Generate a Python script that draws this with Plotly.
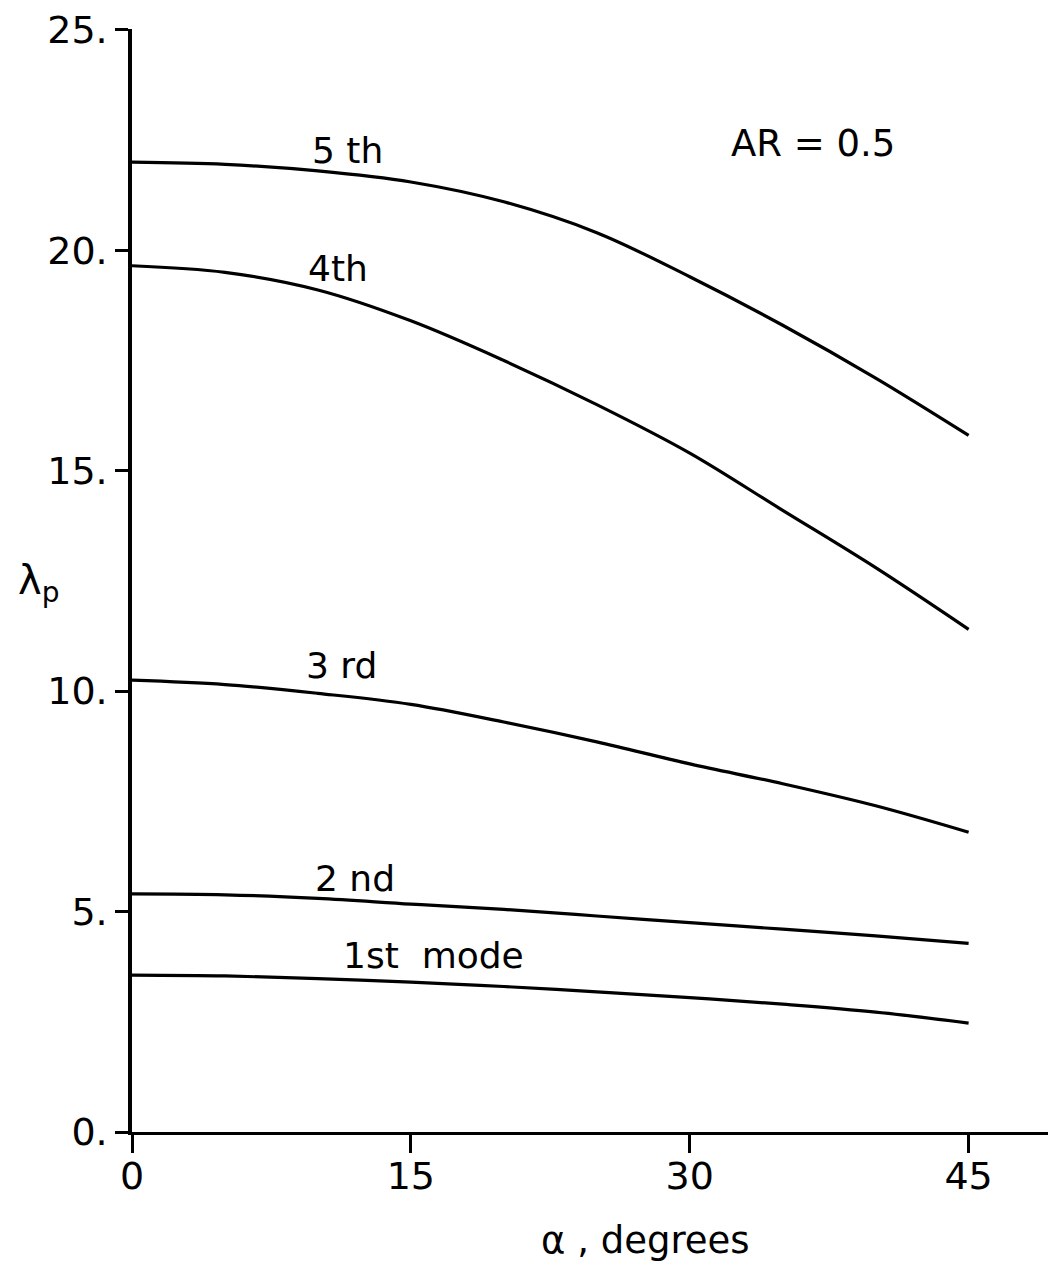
import plotly.graph_objects as go

alpha = [0, 5, 10, 15, 20, 25, 30, 35, 40, 45]
mode1 = [3.56, 3.54, 3.48, 3.40, 3.30, 3.18, 3.05, 2.90, 2.72, 2.47]
mode2 = [5.40, 5.38, 5.30, 5.17, 5.05, 4.90, 4.75, 4.60, 4.45, 4.28]
mode3 = [10.25, 10.15, 9.95, 9.70, 9.30, 8.85, 8.35, 7.90, 7.40, 6.80]
mode4 = [19.65, 19.50, 19.10, 18.40, 17.50, 16.50, 15.40, 14.10, 12.80, 11.40]
mode5 = [22.00, 21.95, 21.80, 21.55, 21.10, 20.40, 19.40, 18.30, 17.10, 15.80]

series = [mode1, mode2, mode3, mode4, mode5]
labels = ["1st  mode", "2 nd", "3 rd", "4th", "5 th"]
label_pos = [(16.2, 4.01), (12.0, 5.76), (11.25, 10.59), (11.1, 19.59), (11.57, 22.27)]

xtick_vals = [0, 15, 30, 45]
xtick_text = ["0", "15", "30", "45"]
ytick_vals = [0, 5, 10, 15, 20, 25]
ytick_text = ["0.", "5.", "10.", "15.", "20.", "25."]

FONT = "DejaVu Sans"
OFF = 8  # default page body margin
W, H = 1056 - OFF, 1264 - OFF
L, R, T = 132 - OFF, 0, 29 - OFF
B = H - (1132 - OFF)
pw, ph = W - L - R, H - T - B

fig = go.Figure()
for s in series:
    fig.add_trace(go.Scatter(x=alpha, y=s, mode="lines", line=dict(color="black", width=3.2, shape="spline"),
                             showlegend=False, hoverinfo="skip"))

for (lx, ly), t in zip(label_pos, labels):
    fig.add_annotation(x=lx, y=ly, text=t, showarrow=False, xref="x", yref="y",
                       font=dict(family=FONT, size=36, color="black"))

fig.add_annotation(x=36.65, y=22.43, text="AR = 0.5", showarrow=False, xref="x", yref="y",
                   font=dict(family=FONT, size=37, color="black"))


def px2paper(px, py):
    return (px - OFF - L) / pw, 1 - (py - OFF - T) / ph


ax_, ay_ = px2paper(38, 583)
fig.add_annotation(x=ax_, y=ay_, text="λ<sub>p</sub>", showarrow=False, xref="paper", yref="paper",
                   xanchor="center", yanchor="middle",
                   font=dict(family=FONT, size=40, color="black"))
bx_, by_ = px2paper(645, 1240)
fig.add_annotation(x=bx_, y=by_, text="α , degrees", showarrow=False, xref="paper", yref="paper",
                   xanchor="center", yanchor="middle",
                   font=dict(family=FONT, size=37, color="black"))

fig.update_layout(
    width=W, height=H,
    margin=dict(l=L, r=R, t=T, b=B, autoexpand=False),
    plot_bgcolor="white", paper_bgcolor="white",
    font=dict(family=FONT, size=38, color="black"),
    xaxis=dict(range=[0, 49.7], tickvals=xtick_vals, ticktext=xtick_text, ticks="outside",
               ticklen=18, tickwidth=3, tickcolor="black", showline=True, linecolor="black",
               linewidth=2.5, showgrid=False, zeroline=False, ticklabelstandoff=-9, automargin=False,
               ticklabeloverflow="allow"),
    yaxis=dict(range=[0, 25.02], tickvals=ytick_vals, ticktext=ytick_text, ticks="outside",
               ticklen=13, tickwidth=3, tickcolor="black", showline=True, linecolor="black",
               linewidth=3.5, showgrid=False, zeroline=False, ticklabelstandoff=0, automargin=False,
               ticklabeloverflow="allow"),
)
fig.write_html("out.html")
